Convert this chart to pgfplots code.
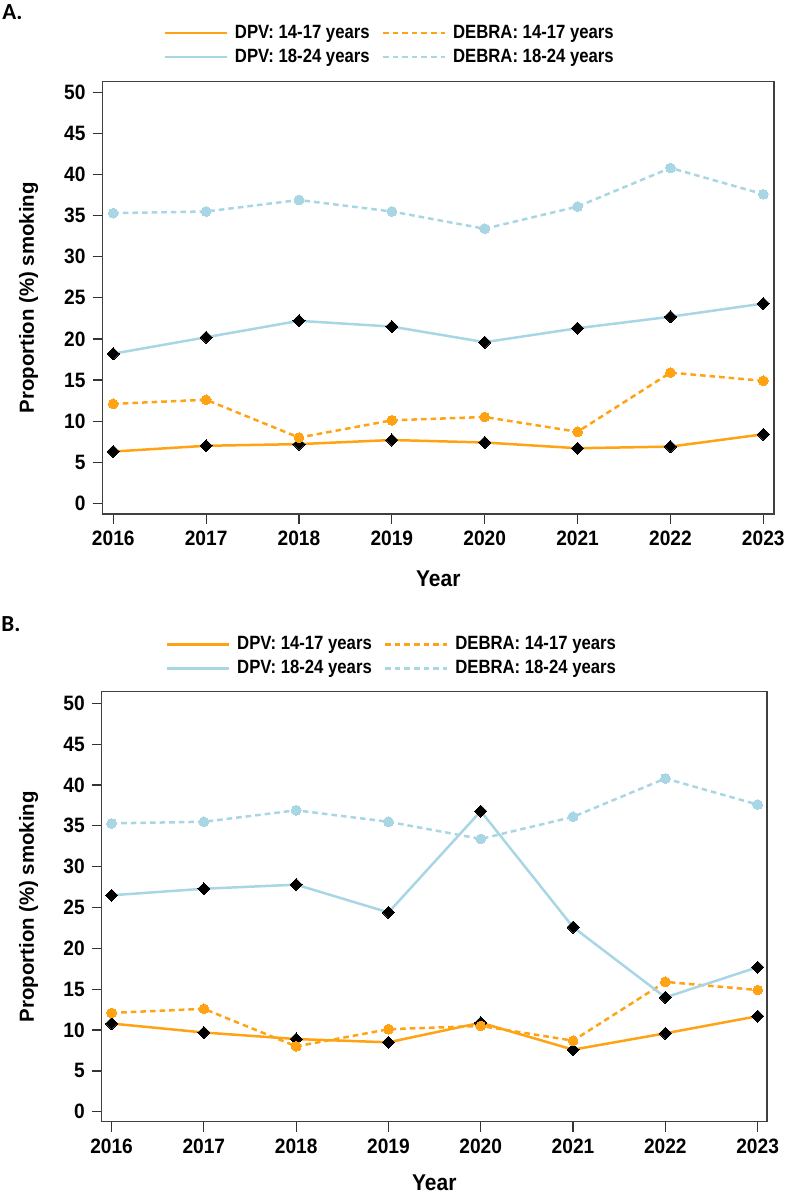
\documentclass[border=0pt]{standalone}
\usepackage{pgfplots}
\usepackage{pgfplotstable}
\pgfplotsset{compat=1.18}
\usepackage{fontspec}
\setmainfont[FakeStretch=0.92]{Liberation Sans}
\newfontfamily\ylabfont{Liberation Sans}
\newfontfamily\legfont[FakeStretch=0.87]{Liberation Sans}
\newfontfamily\panelfont{Carlito}

\definecolor{dpvorange}{RGB}{255,163,20}
\definecolor{agegroupblue}{RGB}{168,214,228}

% Proportion (%) smoking by year; DEBRA survey series are shared by both panels
\pgfplotstableread{
year dpv14 debra14 dpv18 debra18
2016 6.3  12.1 18.2 35.3
2017 7.0  12.6 20.2 35.5
2018 7.2  8.0  22.2 36.9
2019 7.7  10.1 21.5 35.5
2020 7.4  10.5 19.6 33.4
2021 6.7  8.7  21.3 36.1
2022 6.9  15.9 22.7 40.8
2023 8.4  14.9 24.3 37.6
}\tabA

\pgfplotstableread{
year dpv14 debra14 dpv18 debra18
2016 10.8 12.1 26.5 35.3
2017 9.7  12.6 27.3 35.5
2018 8.9  8.0  27.8 36.9
2019 8.5  10.1 24.4 35.5
2020 10.9 10.5 36.8 33.4
2021 7.6  8.7  22.6 36.1
2022 9.6  15.9 14.0 40.8
2023 11.7 14.9 17.7 37.6
}\tabB

\pgfplotsset{
  panel/.style={
    scale only axis,
    /pgf/number format/assume math mode=true,
    xtick={2016,...,2023},
    ytick={0,5,...,50},
    x tick label style={/pgf/number format/set thousands separator={}},
    tick label style={font=\bfseries\fontsize{10.4}{12}\selectfont},
    tick align=outside,
    tick pos=left,
    major tick length=5pt,
    tick style={line width=0.6pt, black!80},
    axis line style={line width=0.7pt, black!75},
    xlabel={Year},
    ylabel={Proportion (\%) smoking},
    xlabel style={font=\bfseries\fontsize{11.4}{12}\selectfont, anchor=center},
    ylabel style={font=\ylabfont\bfseries\fontsize{10.2}{12}\selectfont, anchor=center},
    legend columns=2,
    legend cell align=left,
    legend image code/.code={\draw[#1, mark=none, line width=1.25pt] (0pt,0pt) -- (31pt,0pt);},
    legend style={
      draw=none, fill=none, inner sep=0pt, outer sep=0pt,
      at={(axis description cs:0,1)}, anchor=south west,
      font=\legfont\bfseries\fontsize{9.6}{11}\selectfont,
      nodes={inner sep=0pt, text height=6.9pt, text depth=1.9pt},
      row sep=3.2pt,
      /tikz/every odd column/.append style={column sep=3.5pt},
      /tikz/every even column/.append style={column sep=6pt},
    },
    every axis plot/.append style={line width=1.25pt},
  },
  dpv/.style={solid, color=#1, mark=square*,
    mark options={solid, rotate=45, fill=black, draw=black, line width=0pt, mark size=2.15pt}},
  debra/.style={color=#1, dash pattern=on 2.8pt off 2pt, mark=*,
    mark options={solid, fill=#1, draw=#1, line width=0pt, mark size=2.45pt}},
}

\begin{document}
\begin{tikzpicture}
\path[use as bounding box] (0pt,0pt) rectangle (393.5pt,-597pt);

\node[anchor=west, inner sep=0pt, font=\panelfont\bfseries\fontsize{11.5}{12}\selectfont] at (1pt,-6.2pt) {A.};
\node[anchor=west, inner sep=0pt, font=\panelfont\bfseries\fontsize{11.5}{12}\selectfont] at (0.5pt,-312.3pt) {B.};

% Panel A
\begin{axis}[panel,
  at={(51.25pt,-257pt)}, anchor=south west,
  width=335.75pt, height=216.2pt,
  xmin=2015.884, xmax=2023.115,
  ymin=-1.3, ymax=51.3,
  xlabel style={at={(axis description cs:0.5,-0.150)}},
  ylabel style={at={(axis description cs:-0.110,0.5)}},
  legend style={xshift=30.5pt, yshift=7.9pt},
]
\addplot[dpv=dpvorange] table[x=year, y=dpv14] {\tabA};
\addlegendentry{DPV: 14-17 years}
\addplot[debra=dpvorange] table[x=year, y=debra14] {\tabA};
\addlegendentry{DEBRA: 14-17 years}
\addplot[dpv=agegroupblue] table[x=year, y=dpv18] {\tabA};
\addlegendentry{DPV: 18-24 years}
\addplot[debra=agegroupblue] table[x=year, y=debra18] {\tabA};
\addlegendentry{DEBRA: 18-24 years}
\end{axis}

% Panel B
\begin{axis}[panel,
  at={(50.85pt,-560.85pt)}, anchor=south west,
  width=332.6pt, height=215pt,
  xmin=2015.893, xmax=2023.1,
  ymin=-1.22, ymax=51.42,
  xlabel style={at={(axis description cs:0.5,-0.143)}},
  ylabel style={at={(axis description cs:-0.110,0.5)}},
  legend style={xshift=32pt, yshift=7.3pt},
]
\addplot[dpv=dpvorange] table[x=year, y=dpv14] {\tabB};
\addlegendentry{DPV: 14-17 years}
\addplot[debra=dpvorange] table[x=year, y=debra14] {\tabB};
\addlegendentry{DEBRA: 14-17 years}
\addplot[dpv=agegroupblue] table[x=year, y=dpv18] {\tabB};
\addlegendentry{DPV: 18-24 years}
\addplot[debra=agegroupblue] table[x=year, y=debra18] {\tabB};
\addlegendentry{DEBRA: 18-24 years}
\end{axis}
\end{tikzpicture}
\end{document}
